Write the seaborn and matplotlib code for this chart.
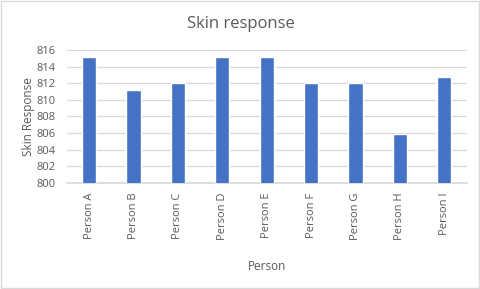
import matplotlib
matplotlib.use("Agg")
import matplotlib.pyplot as plt
import seaborn as sns
import pandas as pd
from matplotlib.patches import Rectangle

persons = ["Person A", "Person B", "Person C", "Person D", "Person E",
           "Person F", "Person G", "Person H", "Person I"]
responses = [815.2, 811.2, 812.0, 815.2, 815.2, 812.0, 812.0, 805.9, 812.8]
yticks = [800, 802, 804, 806, 808, 810, 812, 814, 816]

df = pd.DataFrame({"Person": persons, "Skin Response": responses})

sns.set_theme(style="white")
plt.rcParams['font.family'] = ['Open Sans', 'DejaVu Sans']
txt = "#595959"

fig = plt.figure(figsize=(4.81, 2.89), dpi=100)
ax = fig.add_axes([0.139, 0.367, 0.831, 0.460])
sns.barplot(data=df, x="Person", y="Skin Response", color="#4472C4",
            width=0.32, saturation=1, ax=ax, zorder=3)
ax.set_ylim(800, 816)
ax.set_yticks(yticks)
ax.set_xlim(-0.5, len(persons) - 0.5)
ax.yaxis.grid(True, color="#d9d9d9", linewidth=0.9, zorder=0)
ax.set_axisbelow(True)
for s in ["top", "right", "left"]:
    ax.spines[s].set_visible(False)
ax.spines["bottom"].set_color("#d9d9d9")
ax.tick_params(axis="both", length=0, labelsize=8, labelcolor=txt)
ax.tick_params(axis="y", pad=8)
ax.tick_params(axis="x", rotation=90, pad=7)
ax.set_xlabel("Person", fontsize=8.5, color=txt, labelpad=14)
ax.set_ylabel("Skin Response", fontsize=8.5, color=txt, labelpad=1)
fig.text(0.5, 0.917, "Skin response", ha="center", va="center",
         fontsize=12, color=txt)
fig.patches.append(Rectangle((0.002, 0.003), 0.994, 0.994, transform=fig.transFigure,
                             fill=False, edgecolor="#d9d9d9", linewidth=1))
fig.savefig("out.png", dpi=100)
